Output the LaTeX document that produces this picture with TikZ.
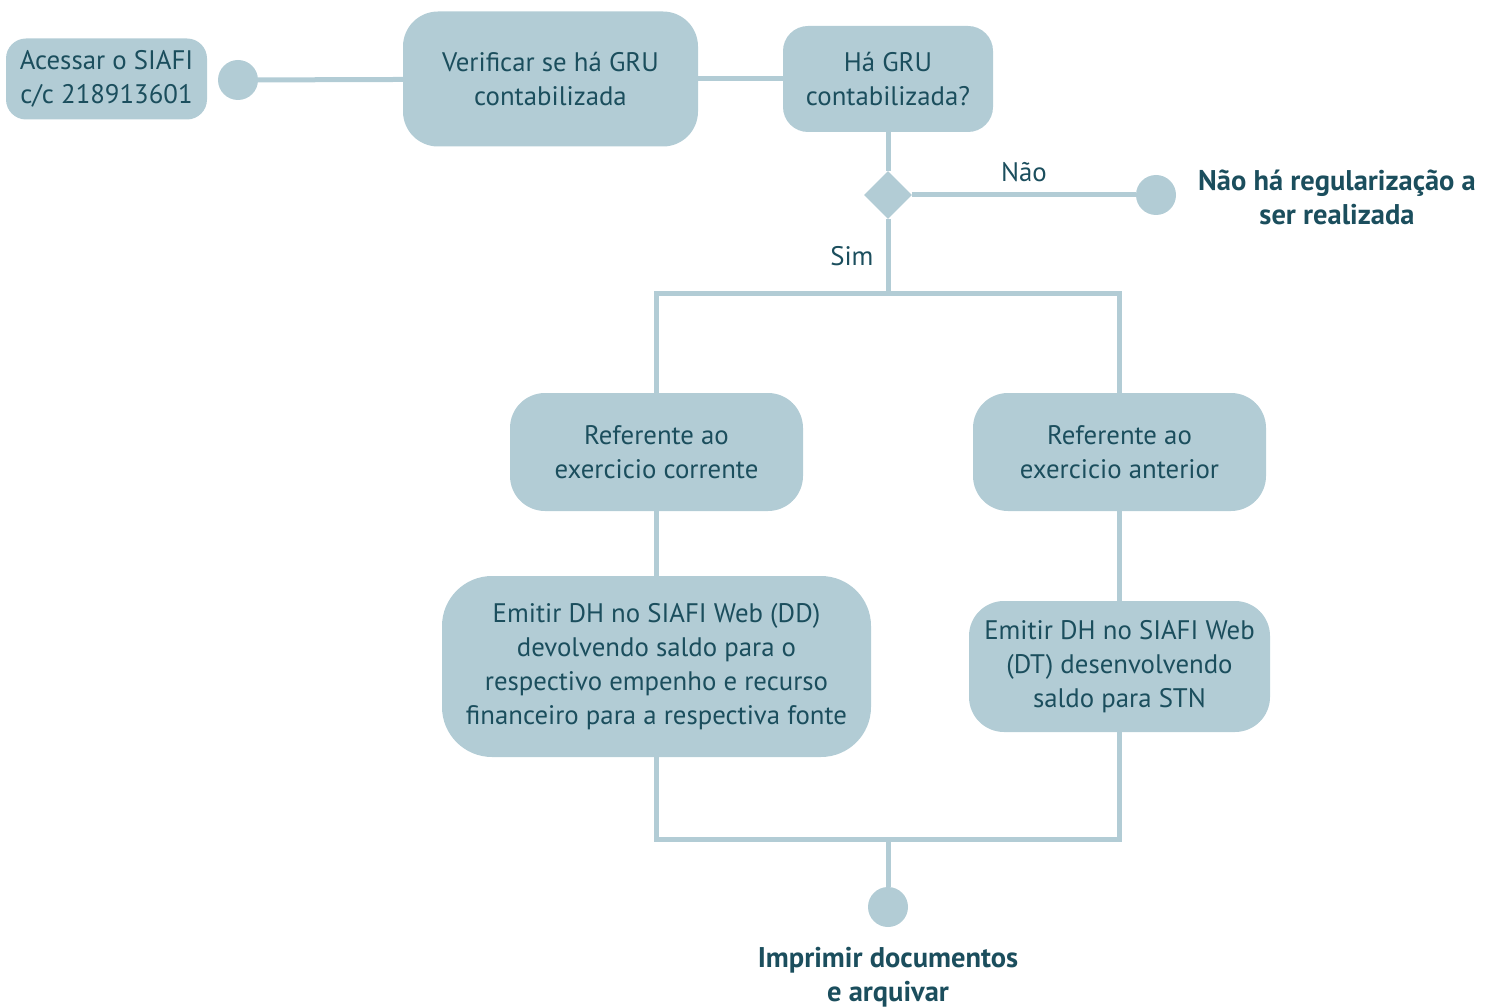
\documentclass[tikz,border=0pt]{standalone}
\usepackage{fontspec}
\setmainfont{PT Sans}
\usetikzlibrary{shapes.geometric}
\definecolor{boxfill}{RGB}{178,204,213}
\definecolor{ink}{RGB}{27,78,93}
\begin{document}
\begin{tikzpicture}[x=1pt,y=-1pt,
  every node/.style={font=\fontsize{26.8}{34}\selectfont, text=ink, align=center, inner sep=0pt},
  box/.style={fill=boxfill, draw=none},
  dot/.style={circle, fill=boxfill, minimum size=40pt, inner sep=0pt},
  wire/.style={draw=boxfill, line width=5pt, line join=miter},
  bold/.style={font=\fontsize{28.5}{34}\selectfont\bfseries}
]
\useasboundingbox (0,0) rectangle (1497,1008);

% activities
\node[box, rounded corners=20pt, minimum width=201pt, minimum height=81pt] (acc) at (106.5,79) {Acessar o SIAFI\\c/c 218913601};
\node[dot] (start) at (238,80) {};
\node[box, rounded corners=35pt, minimum width=295pt, minimum height=135pt] (ver) at (550.5,79) {Verificar se há GRU\\contabilizada};
\node[box, rounded corners=25pt, minimum width=210pt, minimum height=106pt] (q) at (888,79) {Há GRU\\contabilizada?};
\node[diamond, fill=boxfill, minimum width=48pt, minimum height=48pt, inner sep=0pt] (dec) at (888,195) {};
\node[dot] (nao) at (1156,195) {};
\node[bold] (naotxt) at (1337,197) {Não há regularização a\\ser realizada};
\node[box, rounded corners=35pt, minimum width=293pt, minimum height=118pt] (cor) at (656.5,452) {Referente ao\\exercicio corrente};
\node[box, rounded corners=35pt, minimum width=293pt, minimum height=118pt] (ant) at (1119.5,452) {Referente ao\\exercicio anterior};
\node[box, rounded corners=50pt, minimum width=429pt, minimum height=181pt] (dd) at (656.5,666.5) {Emitir DH no SIAFI Web (DD)\\devolvendo saldo para o\\respectivo empenho e recurso\\financeiro para a respectiva fonte};
\node[box, rounded corners=35pt, minimum width=301pt, minimum height=131pt] (dt) at (1119.5,666.5) {Emitir DH no SIAFI Web\\(DT) desenvolvendo\\saldo para STN};
\node[dot] (fim) at (888,907) {};
\node[bold] (fimtxt) at (888,977) {Imprimir documentos\\e arquivar};

% branch bars
\coordinate (split) at (888,294);
\coordinate (join) at (888,839);

% connectors
\draw[wire] (start) -- (ver);
\draw[wire] (ver) -- (q);
\draw[wire] (q) -- (dec);
\draw[wire] (dec) -- node[above=11pt] (naolbl) {Não} (nao);
\draw[wire] (dec) -- node[left=12pt, pos=0.5] (simlbl) {Sim} (split);
\draw[wire] (cor.north) -- (cor.north|-split) -- (ant.north|-split) -- (ant.north);
\draw[wire] (cor) -- (dd);
\draw[wire] (ant) -- (dt);
\draw[wire] (dd.south) -- (dd.south|-join) -- (dt.south|-join) -- (dt.south);
\draw[wire] (join) -- (fim);
\end{tikzpicture}
\end{document}
